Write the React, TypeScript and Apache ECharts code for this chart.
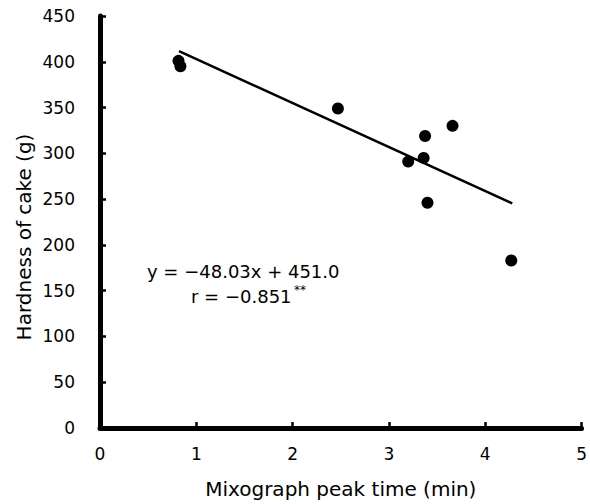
import React, { useEffect, useRef } from "react";
import * as echarts from "echarts";

const peakTime = [0.815, 0.835, 2.47, 3.375, 3.66, 3.2, 3.36, 3.4, 4.27];
const hardness = [401, 395, 349, 319, 330, 291, 295, 246, 183];
const fitX = [0.82, 4.28];
const fitY = [411.6, 245.4];
const xTicks = [0, 1, 2, 3, 4, 5];
const yTicks = [0, 50, 100, 150, 200, 250, 300, 350, 400, 450];
const equation = "y = −48.03x + 451.0";
const rText = "r = −0.851";
const sig = "**";
const xName = "Mixograph peak time (min)";
const yName = "Hardness of cake (g)";

const FONT = "DejaVu Sans";

export default function App() {
  const ref = useRef<HTMLDivElement>(null);
  useEffect(() => {
    const chart = echarts.init(ref.current!, null, { renderer: "svg" });
    chart.setOption({
      animation: false,
      backgroundColor: "#fff",
      textStyle: { fontFamily: FONT },
      grid: { left: 100, right: 7, top: 16, bottom: 73, containLabel: false },
      xAxis: {
        type: "value",
        min: xTicks[0],
        max: xTicks[xTicks.length - 1],
        interval: 1,
        axisLine: { show: true, onZero: false, lineStyle: { color: "#000", width: 5 } },
        axisTick: { show: true, inside: true, length: 6, lineStyle: { color: "#000", width: 2.5 } },
        splitLine: { show: false },
        axisLabel: { color: "#000", fontSize: 17, fontFamily: FONT, margin: 17 },
        name: xName,
        nameLocation: "middle",
        nameGap: 51,
        nameTextStyle: { color: "#000", fontSize: 20, fontFamily: FONT },
      },
      yAxis: {
        type: "value",
        min: yTicks[0],
        max: yTicks[yTicks.length - 1],
        interval: 50,
        axisLine: { show: true, onZero: false, lineStyle: { color: "#000", width: 5 } },
        axisTick: { show: true, inside: true, length: 6, lineStyle: { color: "#000", width: 2.5 } },
        splitLine: { show: false },
        axisLabel: { color: "#000", fontSize: 17, fontFamily: FONT, margin: 25 },
      },
      graphic: [
        {
          type: "text",
          x: 24,
          y: 237,
          rotation: Math.PI / 2,
          style: {
            text: yName,
            fill: "#000",
            font: `20px ${FONT}`,
            align: "center",
            verticalAlign: "middle",
          },
        },
        {
          type: "text",
          left: 147,
          top: 262,
          style: { text: equation, fill: "#000", font: `18px ${FONT}` },
        },
        {
          type: "text",
          left: 191,
          top: 287,
          style: { text: rText, fill: "#000", font: `18px ${FONT}` },
        },
        {
          type: "text",
          left: 294,
          top: 284,
          style: { text: sig, fill: "#000", font: `12px ${FONT}` },
        },
      ],
      series: [
        {
          type: "line",
          data: fitX.map((x, i) => [x, fitY[i]]),
          showSymbol: false,
          symbol: "none",
          lineStyle: { color: "#000", width: 2.5 },
          z: 2,
        },
        {
          type: "scatter",
          data: peakTime.map((x, i) => [x, hardness[i]]),
          symbol: "circle",
          symbolSize: 12,
          itemStyle: { color: "#000", opacity: 1 },
          z: 3,
        },
      ],
    });
    return () => chart.dispose();
  }, []);
  return <div ref={ref} style={{ width: 590, height: 504, position: "absolute", left: 0, top: 0 }} />;
}
